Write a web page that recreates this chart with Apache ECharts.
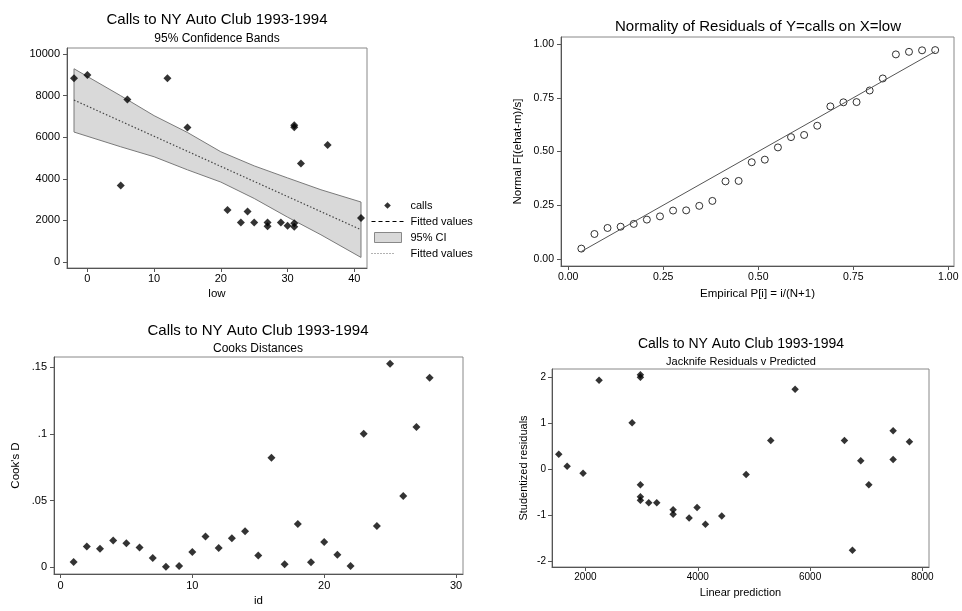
<!DOCTYPE html>
<html><head><meta charset="utf-8">
<script src="https://cdn.jsdelivr.net/npm/echarts@6/dist/echarts.min.js"></script>
<style>html,body{margin:0;padding:0;background:#fff}#c{width:962px;height:611px}</style>
</head><body><div id="c"></div>
<script>
// ---- Panel 1: calls vs low with 95% CI ----
const callsLow = [-2,0,5,6,12,15,21,23,24,25,27,27,29,30,31,31,31,31,32,36,41];
const callsVal = [8840,9000,3680,7820,8840,6470,2500,1890,2420,1890,1890,1710,1890,1730,1860,1690,6580,6480,4730,5630,2110];
const fitLow = [-2, 41];
const fitVal = [7790, 1545];
const bandLow = [-2,5,10,15,20,25,30,35,41];
const bandUpper = [9300,8000,7040,6230,5300,4620,4040,3470,2880];
const bandLower = [6250,5540,5060,4430,3840,3050,2150,1300,210];
const p1XTicks = [0,10,20,30,40];
const p1YTicks = [0,2000,4000,6000,8000,10000];

// ---- Panel 2: normal probability plot ----
const empP = [0.0345,0.069,0.1034,0.1379,0.1724,0.2069,0.2414,0.2759,0.3103,0.3448,0.3793,0.4138,0.4483,0.4828,0.5172,0.5517,0.5862,0.6207,0.6552,0.6897,0.7241,0.7586,0.7931,0.8276,0.8621,0.8966,0.931,0.9655];
const normF = [0.048,0.116,0.144,0.150,0.163,0.183,0.198,0.225,0.226,0.247,0.270,0.361,0.363,0.450,0.462,0.519,0.567,0.577,0.620,0.710,0.729,0.730,0.784,0.840,0.952,0.964,0.971,0.972];
const refLineX = [0.0345, 0.9655];
const refLineY = [0.0345, 0.9655];
const p2Ticks = [0, 0.25, 0.5, 0.75, 1];

// ---- Panel 3: Cook's distances ----
const ids = [1,2,3,4,5,6,7,8,9,10,11,12,13,14,15,16,17,18,19,20,21,22,23,24,25,26,27,28];
const cooksD = [0.004,0.0155,0.014,0.020,0.018,0.0148,0.007,0.0005,0.001,0.0115,0.023,0.0145,0.0218,0.027,0.0088,0.082,0.0023,0.0325,0.0038,0.019,0.0095,0.001,0.100,0.031,0.1525,0.0535,0.105,0.142];
const p3XTicks = [0,10,20,30];
const p3YTicks = [0,0.05,0.1,0.15];

// ---- Panel 4: jackknife residuals vs predicted ----
const linPred = [1525,1674,1958,2243,2831,2979,2979,2979,2979,2979,3128,3270,3561,3561,3846,3988,4137,4427,4861,5300,5733,6611,6754,6902,7045,7478,7478,7769];
const studRes = [0.325,0.065,-0.087,1.924,1.005,2.047,1.99,-0.34,-0.60,-0.673,-0.73,-0.73,-0.88,-0.977,-1.056,-0.832,-1.193,-1.013,-0.116,0.622,1.729,0.622,-1.758,0.181,-0.34,0.832,0.21,0.593];
const p4XTicks = [2000,4000,6000,8000];
const p4YTicks = [-2,-1,0,1,2];

const FONT = '"Liberation Sans", Arial, Helvetica, sans-serif';
const AX = '#555';
const zip = (a, b) => a.map((v, i) => [v, b[i]]);

function axis(gi, min, max, ticks, fmt, opt) {
  return {
    type: 'value', gridIndex: gi, min: min, max: max,
    splitLine: { show: false },
    axisLine: { show: true, onZero: false, lineStyle: { color: AX, width: 1 } },
    axisTick: { show: true, length: 4, customValues: ticks, lineStyle: { color: AX } },
    axisLabel: { customValues: ticks, formatter: fmt, margin: opt.margin || 6, fontSize: opt.fs || 11, color: '#000', fontFamily: FONT },
    nameLocation: 'middle', nameGap: opt.gap || 20,
    nameTextStyle: { fontSize: opt.nfs || 11.5, color: '#000', fontFamily: FONT },
    name: opt.name || ''
  };
}

const grids = [
  { left: 67, top: 48, width: 300, height: 220 },
  { left: 561, top: 37, width: 393, height: 229 },
  { left: 54, top: 357, width: 409, height: 217 },
  { left: 552, top: 369, width: 377, height: 198 }
].map(g => Object.assign(g, { show: true, borderColor: '#888', borderWidth: 1, backgroundColor: 'transparent', containLabel: false, outerBoundsMode: 'none' }));

const t = (text, x, y, fs) => ({ text: text, left: x, top: y, textAlign: 'center', padding: 0,
  textStyle: { fontSize: fs, fontWeight: 'normal', color: '#000', fontFamily: FONT } });

const fmtInt = v => String(v);
const fmt2 = v => v.toFixed(2);
const fmtDot = v => v === 0 ? '0' : String(v).replace(/^0\./, '.');

const option = {
  animation: false,
  backgroundColor: '#fff',
  title: [
    t('Calls to NY Auto Club 1993-1994', 217, 12, 15),
    t('95% Confidence Bands', 217, 33, 12),
    t('Normality of Residuals of Y=calls on X=low', 758, 19, 15),
    t('Calls to NY Auto Club 1993-1994', 258, 323, 15),
    t('Cooks Distances', 258, 343, 12),
    t('Calls to NY Auto Club 1993-1994', 741, 337, 14),
    t('Jacknife Residuals v Predicted', 741, 356, 11)
  ],
  grid: grids,
  xAxis: [
    axis(0, -3.05, 41.9, p1XTicks, fmtInt, { margin: 5, name: 'low', gap: 20 }),
    axis(1, -0.019, 1.015, p2Ticks, fmt2, { margin: 6, fs: 10.5, name: 'Empirical P[i] = i/(N+1)', gap: 22 }),
    axis(2, -0.49, 30.53, p3XTicks, fmtInt, { margin: 6, name: 'id', gap: 21 }),
    axis(3, 1405, 8117, p4XTicks, fmtInt, { margin: 5, fs: 10, name: 'Linear prediction', gap: 20, nfs: 11 })
  ],
  yAxis: [
    axis(0, -300, 10300, p1YTicks, fmtInt, { margin: 7 }),
    axis(1, -0.033, 1.033, p2Ticks, fmt2, { margin: 7, fs: 10.5, name: 'Normal F[(ehat-m)/s]', gap: 37 }),
    axis(2, -0.005, 0.1575, p3YTicks, fmtDot, { margin: 7, name: "Cook's D", gap: 32 }),
    axis(3, -2.12, 2.17, p4YTicks, fmtInt, { margin: 6, fs: 10, name: 'Studentized residuals', gap: 23, nfs: 11 })
  ],
  legend: {
    orient: 'vertical', left: 371, top: 200, padding: 0,
    itemWidth: 32, itemHeight: 10, itemGap: 5,
    textStyle: { fontSize: 11, color: '#000', fontFamily: FONT, padding: [0, 0, 0, 2] },
    symbolKeepAspect: true,
    formatter: n => n.indexOf('fit') === 0 ? 'Fitted values' : n,
    data: [
      { name: 'calls', icon: 'path://M0,0M12,12M2,6L6,2L10,6L6,10Z', itemStyle: { color: '#000' } },
      { name: 'fit1', icon: 'path://M0,4.5L4,4.5L4,5.5L0,5.5ZM7,4.5L11,4.5L11,5.5L7,5.5ZM14,4.5L18,4.5L18,5.5L14,5.5ZM21,4.5L25,4.5L25,5.5L21,5.5ZM28,4.5L32,4.5L32,5.5L28,5.5ZM0,0M32,10', itemStyle: { color: '#000' } },
      { name: '95% CI', icon: 'path://M3,0L30,0L30,10L3,10ZM0,0M32,10', itemStyle: { color: '#d9d9d9', borderColor: '#888', borderWidth: 1 } },
      { name: 'fit2', icon: 'path://M0,4.6L1,4.6L1,5.4L0,5.4ZM3,4.6L4,4.6L4,5.4L3,5.4ZM6,4.6L7,4.6L7,5.4L6,5.4ZM9,4.6L10,4.6L10,5.4L9,5.4ZM12,4.6L13,4.6L13,5.4L12,5.4ZM15,4.6L16,4.6L16,5.4L15,5.4ZM18,4.6L19,4.6L19,5.4L18,5.4ZM21,4.6L22,4.6L22,5.4L21,5.4ZM0,0M32,10', itemStyle: { color: '#666' } }
    ]
  },
  series: [
    { name: 'fit1', type: 'line', xAxisIndex: 0, yAxisIndex: 0, data: zip(fitLow, fitVal), symbol: 'none', z: 1,
      lineStyle: { color: '#000', width: 1, type: [5, 3] }, itemStyle: { color: '#000' } },
    { name: '95% CI', type: 'custom', xAxisIndex: 0, yAxisIndex: 0, z: 2, data: [[bandLow[0], bandUpper[0]]],
      itemStyle: { color: '#d9d9d9' },
      renderItem: function (params, api) {
        const pts = [];
        for (let i = 0; i < bandLow.length; i++) pts.push(api.coord([bandLow[i], bandUpper[i]]));
        for (let i = bandLow.length - 1; i >= 0; i--) pts.push(api.coord([bandLow[i], bandLower[i]]));
        return { type: 'polygon', shape: { points: pts }, style: { fill: '#d9d9d9', stroke: '#7a7a7a', lineWidth: 1 } };
      } },
    { name: 'fit2', type: 'line', xAxisIndex: 0, yAxisIndex: 0, data: zip(fitLow, fitVal), symbol: 'none', z: 3,
      lineStyle: { color: '#444', width: 1.2, type: [1.5, 2] }, itemStyle: { color: '#666' } },
    { name: 'calls', type: 'scatter', xAxisIndex: 0, yAxisIndex: 0, data: zip(callsLow, callsVal), symbol: 'diamond', symbolSize: 8, z: 4,
      itemStyle: { color: '#000' } },

    { type: 'line', xAxisIndex: 1, yAxisIndex: 1, data: zip(refLineX, refLineY), symbol: 'none',
      lineStyle: { color: '#555', width: 1 } },
    { type: 'scatter', xAxisIndex: 1, yAxisIndex: 1, data: zip(empP, normF), symbol: 'circle', symbolSize: 7,
      itemStyle: { color: 'rgba(0,0,0,0)', borderColor: '#000', borderWidth: 1 } },

    { type: 'scatter', xAxisIndex: 2, yAxisIndex: 2, data: zip(ids, cooksD), symbol: 'diamond', symbolSize: 8,
      itemStyle: { color: '#000' } },

    { type: 'scatter', xAxisIndex: 3, yAxisIndex: 3, data: zip(linPred, studRes), symbol: 'diamond', symbolSize: 7.5,
      itemStyle: { color: '#000' } }
  ]
};
const chart = echarts.init(document.getElementById('c'), null, { renderer: 'canvas' });
chart.setOption(option);
</script></body></html>
